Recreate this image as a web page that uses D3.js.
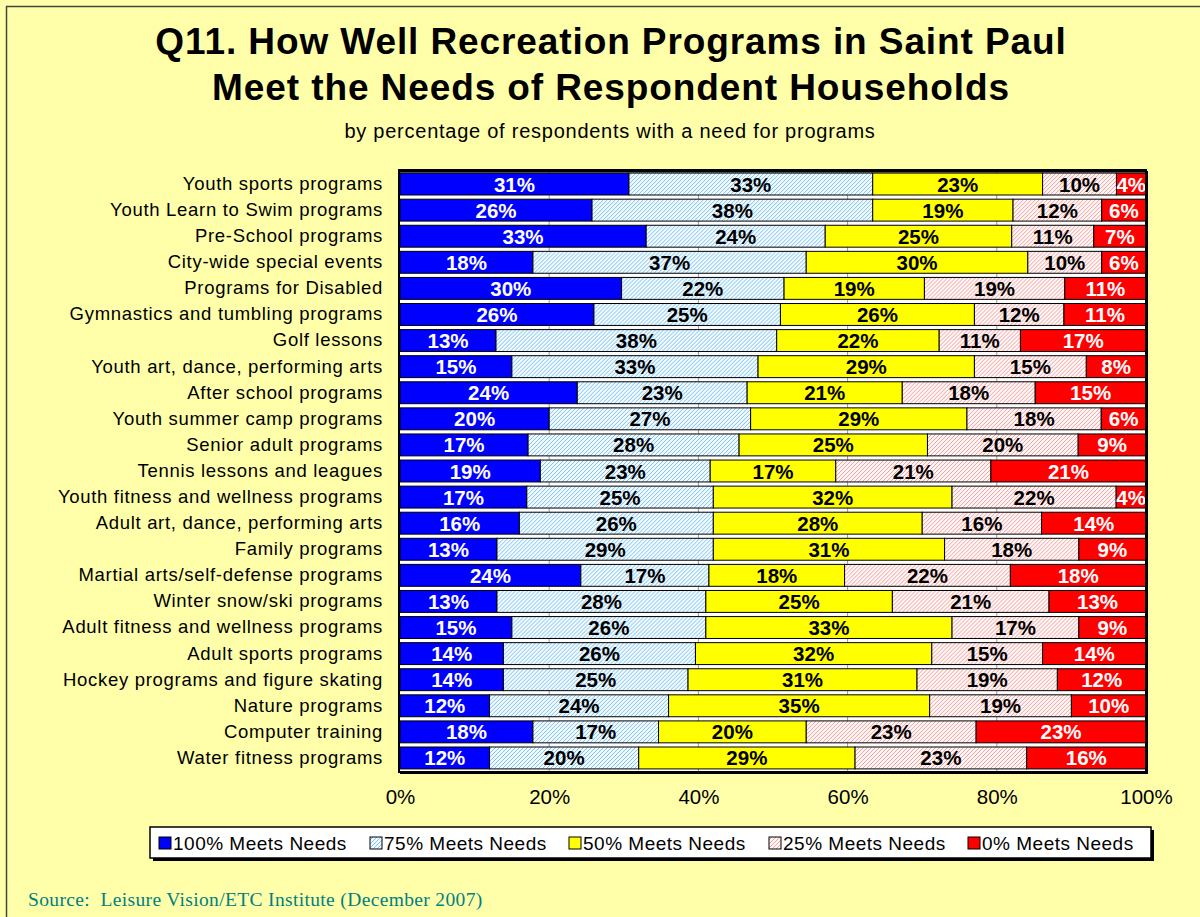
<!DOCTYPE html>
<html>
<head>
<meta charset="utf-8">
<script src="https://cdn.jsdelivr.net/npm/d3@7"></script>
<style>
  body { margin: 0; background: #FFFFAA; }
  svg { display: block; font-family: Arial, "Liberation Sans", sans-serif; }
</style>
</head>
<body>
<div id="chart"></div>
<script>
// program names, top to bottom
var programs = [
  "Youth sports programs", "Youth Learn to Swim programs", "Pre-School programs",
  "City-wide special events", "Programs for Disabled", "Gymnastics and tumbling programs",
  "Golf lessons", "Youth art, dance, performing arts", "After school programs",
  "Youth summer camp programs", "Senior adult programs", "Tennis lessons and leagues",
  "Youth fitness and wellness programs", "Adult art, dance, performing arts", "Family programs",
  "Martial arts/self-defense programs", "Winter snow/ski programs", "Adult fitness and wellness programs",
  "Adult sports programs", "Hockey programs and figure skating", "Nature programs",
  "Computer training", "Water fitness programs"
];
// one array per answer, same order as programs
var meets100 = [31, 26, 33, 18, 30, 26, 13, 15, 24, 20, 17, 19, 17, 16, 13, 24, 13, 15, 14, 14, 12, 18, 12];
var meets75  = [33, 38, 24, 37, 22, 25, 38, 33, 23, 27, 28, 23, 25, 26, 29, 17, 28, 26, 26, 25, 24, 17, 20];
var meets50  = [23, 19, 25, 30, 19, 26, 22, 29, 21, 29, 25, 17, 32, 28, 31, 18, 25, 33, 32, 31, 35, 20, 29];
var meets25  = [10, 12, 11, 10, 19, 12, 11, 15, 18, 18, 20, 21, 22, 16, 18, 22, 21, 17, 15, 19, 19, 23, 23];
var meets0   = [4, 6, 7, 6, 11, 11, 17, 8, 15, 6, 9, 21, 4, 14, 9, 18, 13, 9, 14, 12, 10, 23, 16];
var seriesNames = ["100% Meets Needs", "75% Meets Needs", "50% Meets Needs", "25% Meets Needs", "0% Meets Needs"];
var xTicks = [0, 20, 40, 60, 80, 100];

var W = 1200, H = 917;
var svg = d3.select("#chart").append("svg").attr("width", W).attr("height", H);

// hatch patterns for the 75% and 25% series
var defs = svg.append("defs");
function hatch(id, bg, line) {
  var p = defs.append("pattern").attr("id", id).attr("patternUnits", "userSpaceOnUse")
    .attr("width", 4).attr("height", 4);
  p.append("rect").attr("width", 4).attr("height", 4).attr("fill", bg);
  p.append("path").attr("d", "M-1,1 l2,-2 M0,4 l4,-4 M3,5 l2,-2")
    .attr("stroke", line).attr("stroke-width", 1);
}
hatch("h75", "#F2FAFF", "#7CC2F2");
hatch("h25", "#FFF6F6", "#F4A0A0");

var fills = ["#0000FF", "url(#h75)", "#FFFF00", "url(#h25)", "#FF0000"];
var textCols = ["#fff", "#000", "#000", "#000", "#fff"];

// page background and frame
svg.append("rect").attr("width", W).attr("height", H).attr("fill", "#FFFFAA");
svg.append("rect").attr("x", 6.5).attr("y", 6.5).attr("width", W + 20).attr("height", H + 20)
  .attr("fill", "none").attr("stroke", "#444").attr("stroke-width", 1.5);

// titles
svg.append("text").attr("x", 611).attr("y", 54).attr("text-anchor", "middle")
  .style("font-size", "37px").style("font-weight", "bold").style("letter-spacing", "0.9px")
  .text("Q11. How Well Recreation Programs in Saint Paul");
svg.append("text").attr("x", 611).attr("y", 100).attr("text-anchor", "middle")
  .style("font-size", "37px").style("font-weight", "bold").style("letter-spacing", "0.9px")
  .text("Meet the Needs of Respondent Households");
svg.append("text").attr("x", 610).attr("y", 138).attr("text-anchor", "middle")
  .style("font-size", "20px").style("letter-spacing", "0.75px")
  .text("by percentage of respondents with a need for programs");

// scales
var x = d3.scaleLinear().domain([0, 100]).range([400, 1146]);
var y = d3.scaleBand().domain(programs).range([171, 771]).paddingInner(0.16).paddingOuter(0.08);

// plot area
svg.append("rect").attr("x", 399).attr("y", 170).attr("width", 747).attr("height", 602)
  .attr("fill", "#fff");
svg.append("g").selectAll("line").data(xTicks.slice(1, -1)).enter().append("line")
  .attr("x1", function(d) { return x(d); }).attr("x2", function(d) { return x(d); })
  .attr("y1", 171).attr("y2", 771).attr("stroke", "#999");

// stack the rows, normalised to 100
var rows = programs.map(function(name, i) {
  var vals = [meets100[i], meets75[i], meets50[i], meets25[i], meets0[i]];
  var total = d3.sum(vals);
  var x0 = 0;
  return { name: name, segs: vals.map(function(v, k) {
    var s = { k: k, v: v, x0: x0 / total * 100, x1: (x0 + v) / total * 100 };
    x0 += v;
    return s;
  }) };
});

var rowG = svg.append("g").selectAll("g").data(rows).enter().append("g")
  .attr("transform", function(d) { return "translate(0," + y(d.name) + ")"; });
rowG.selectAll("rect").data(function(d) { return d.segs; }).enter().append("rect")
  .attr("x", function(d) { return x(d.x0); })
  .attr("width", function(d) { return x(d.x1) - x(d.x0); })
  .attr("height", y.bandwidth())
  .attr("fill", function(d) { return fills[d.k]; })
  .attr("stroke", "#000").attr("stroke-width", 1);
rowG.selectAll("text").data(function(d) { return d.segs; }).enter().append("text")
  .attr("x", function(d) { return (x(d.x0) + x(d.x1)) / 2; })
  .attr("y", y.bandwidth() / 2 + 7.5)
  .attr("text-anchor", "middle")
  .style("font-size", "20.5px").style("font-weight", "bold")
  .attr("fill", function(d) { return textCols[d.k]; })
  .text(function(d) { return d.v + "%"; });

// plot border with heavier bottom/right shadow
svg.append("rect").attr("x", 399).attr("y", 170).attr("width", 747).attr("height", 602)
  .attr("fill", "none").attr("stroke", "#000").attr("stroke-width", 2);
svg.append("path").attr("d", "M1147,171 V773 H400").attr("fill", "none")
  .attr("stroke", "#000").attr("stroke-width", 2);
svg.append("line").attr("x1", 399).attr("x2", 1146).attr("y1", 171).attr("y2", 171)
  .attr("stroke", "#000").attr("stroke-width", 3);

// category axis labels
var yAxis = d3.axisLeft(y).tickSize(0).tickPadding(16);
var gy = svg.append("g").attr("transform", "translate(399,0)").call(yAxis);
gy.select(".domain").remove();
gy.selectAll("text").style("font-size", "18.5px").style("font-family", "Arial, 'Liberation Sans', sans-serif")
  .attr("fill", "#000").style("letter-spacing", "0.7px");

// value axis
var xAxis = d3.axisBottom(x).tickValues(xTicks).tickSize(0).tickPadding(17)
  .tickFormat(function(d) { return d + "%"; });
var gx = svg.append("g").attr("transform", "translate(0,772)").call(xAxis);
gx.select(".domain").remove();
gx.selectAll("text").style("font-size", "20.5px").style("font-family", "Arial, 'Liberation Sans', sans-serif")
  .attr("fill", "#000");

// legend
var leg = svg.append("g");
leg.append("rect").attr("x", 153).attr("y", 830).attr("width", 1001).attr("height", 31).attr("fill", "#000");
leg.append("rect").attr("x", 150).attr("y", 827).attr("width", 1001).attr("height", 31)
  .attr("fill", "#fff").attr("stroke", "#000").attr("stroke-width", 1.5);
var legX = [159, 370, 569, 769, 968];
var li = leg.selectAll("g.item").data(seriesNames).enter().append("g").attr("class", "item")
  .attr("transform", function(d, i) { return "translate(" + legX[i] + ",0)"; });
li.append("rect").attr("x", 0).attr("y", 837).attr("width", 12).attr("height", 12)
  .attr("fill", function(d, i) { return fills[i]; }).attr("stroke", "#000");
li.append("text").attr("x", 14).attr("y", 850).style("font-size", "19px")
  .style("letter-spacing", "0.5px").text(function(d) { return d; });

// source
svg.append("text").attr("x", 28).attr("y", 906)
  .style("font-family", "'Times New Roman', 'Liberation Serif', serif").style("font-size", "19.5px")
  .style("letter-spacing", "0.35px")
  .attr("fill", "#008080").attr("xml:space", "preserve")
  .text("Source:  Leisure Vision/ETC Institute (December 2007)");
</script>
</body>
</html>
